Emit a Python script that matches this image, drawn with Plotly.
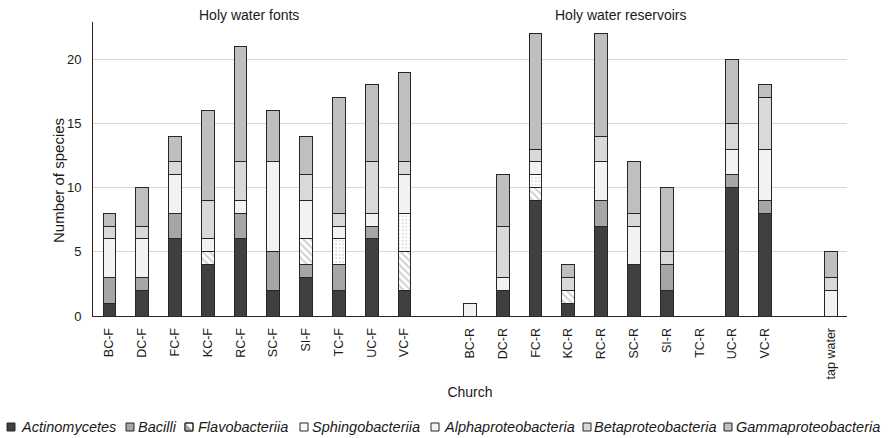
import plotly.graph_objects as go

# Sampling sites: holy water fonts, holy water reservoirs and tap water
categories = ["BC-F", "DC-F", "FC-F", "KC-F", "RC-F", "SC-F", "SI-F", "TC-F", "UC-F", "VC-F",
              "BC-R", "DC-R", "FC-R", "KC-R", "RC-R", "SC-R", "SI-R", "TC-R", "UC-R", "VC-R",
              "tap water"]
# Axis order, with blank slots separating the groups
axis_order = categories[:10] + [" "] + categories[10:20] + ["  "] + categories[20:]

# Number of species per bacterial class
actinomycetes = [1, 2, 6, 4, 6, 2, 3, 2, 6, 2, 0, 2, 9, 1, 7, 4, 2, 0, 10, 8, 0]
bacilli = [2, 1, 2, 0, 2, 3, 1, 2, 1, 0, 0, 0, 0, 0, 2, 0, 2, 0, 1, 1, 0]
flavobacteriia = [0, 0, 0, 1, 0, 0, 2, 0, 0, 3, 0, 0, 1, 1, 0, 0, 0, 0, 0, 0, 0]
sphingobacteriia = [0, 0, 0, 0, 0, 0, 0, 2, 0, 3, 0, 0, 1, 0, 0, 0, 0, 0, 0, 0, 0]
alphaproteobacteria = [3, 3, 3, 1, 1, 7, 3, 1, 1, 3, 1, 1, 1, 0, 3, 3, 0, 0, 2, 4, 2]
betaproteobacteria = [1, 1, 1, 3, 3, 0, 2, 1, 4, 1, 0, 4, 1, 1, 2, 1, 1, 0, 2, 4, 1]
gammaproteobacteria = [1, 3, 2, 7, 9, 4, 3, 9, 6, 7, 0, 4, 9, 1, 8, 4, 5, 0, 5, 1, 2]

group_titles = ["Holy water fonts", "Holy water reservoirs"]

FONT = "Liberation Sans, Arial, sans-serif"
TXT = "#1a1a1a"
EDGE = "#262626"

series = [
    ("Actinomycetes", actinomycetes, dict(color="#404040")),
    ("Bacilli", bacilli, dict(color="#a6a6a6")),
    ("Flavobacteriia", flavobacteriia,
     dict(color="white", pattern=dict(shape="\\", fgcolor="#a0a0a0", bgcolor="white",
                                      size=5, solidity=0.4))),
    ("Sphingobacteriia", sphingobacteriia,
     dict(color="white", pattern=dict(shape=".", fgcolor="#9a9a9a", bgcolor="white",
                                      size=3.5, solidity=0.2))),
    ("Alphaproteobacteria", alphaproteobacteria, dict(color="#f2f2f2")),
    ("Betaproteobacteria", betaproteobacteria, dict(color="#d9d9d9")),
    ("Gammaproteobacteria", gammaproteobacteria, dict(color="#bfbfbf")),
]

fig = go.Figure()
for name, vals, mk in series:
    fig.add_trace(go.Bar(
        name=name,
        x=categories,
        y=[v if v else None for v in vals],
        marker=dict(line=dict(color=EDGE, width=1), **mk),
        showlegend=False,
    ))

# Plot area geometry (px)
W, H = 892, 438
ML, MR, MT, MB = 93, 45, 22, 122
PW, PH = W - ML - MR, H - MT - MB


def px_x(px):
    return (px - ML) / PW


def px_y(py):
    return (H - MB - py) / PH


# Legend row along the bottom: swatch left edge and label left edge (px)
legend_pos = [(7, 20), (126, 137), (185, 197), (300, 311), (431, 443), (583, 593), (724, 735)]
swatch_fill = ["#404040", "#a6a6a6", "white", "white", "#f2f2f2", "#d9d9d9", "#bfbfbf"]
LEG_Y = 427
shapes = []
annotations = []
for (name, _, _), (sx, tx), fill in zip(series, legend_pos, swatch_fill):
    x0, x1 = sx - ML, sx + 8 - ML
    y0, y1 = (H - MB) - (LEG_Y + 4), (H - MB) - (LEG_Y - 4)
    shapes.append(dict(type="rect", xref="paper", yref="paper",
                       xsizemode="pixel", ysizemode="pixel", xanchor=0, yanchor=0,
                       x0=x0, x1=x1, y0=y0, y1=y1,
                       fillcolor=fill, line=dict(color=EDGE, width=1), layer="above"))
    if name == "Flavobacteriia":
        shapes.append(dict(type="path", xref="paper", yref="paper",
                           xsizemode="pixel", ysizemode="pixel", xanchor=0, yanchor=0,
                           path=f"M{x0},{y0} L{x0},{y1} L{x1},{y0} Z",
                           fillcolor="#a6a6a6", line=dict(width=0), layer="above"))
        shapes.append(dict(type="rect", xref="paper", yref="paper",
                           xsizemode="pixel", ysizemode="pixel", xanchor=0, yanchor=0,
                           x0=x0, x1=x1, y0=y0, y1=y1,
                           fillcolor="rgba(0,0,0,0)", line=dict(color=EDGE, width=1),
                           layer="above"))
    annotations.append(dict(text=f"<i>{name}</i>", xref="paper", yref="paper",
                            x=px_x(tx - 1), y=px_y(LEG_Y), xanchor="left", yanchor="middle",
                            showarrow=False, font=dict(size=14.5, color=TXT, family=FONT)))

# Group headings above the bars
for title, xc in zip(group_titles, [4.25, 15.6]):
    annotations.append(dict(text=title, xref="x", yref="paper", x=xc, y=px_y(15),
                            xanchor="center", yanchor="middle", showarrow=False,
                            font=dict(size=14, color=TXT, family=FONT)))

# Vertical axis title
annotations.append(dict(text="Number of species", xref="paper", yref="paper",
                        x=px_x(58), y=px_y(181), xanchor="center", yanchor="middle",
                        textangle=-90, showarrow=False,
                        font=dict(size=15, color=TXT, family=FONT)))

fig.update_layout(
    width=W, height=H,
    margin=dict(l=ML, r=MR, t=MT, b=MB, pad=0),
    barmode="stack",
    bargap=0.61,
    plot_bgcolor="white", paper_bgcolor="white",
    font=dict(family=FONT, color=TXT),
    shapes=shapes,
    annotations=annotations,
    xaxis=dict(
        type="category", categoryorder="array", categoryarray=axis_order,
        range=[-0.5, len(axis_order) - 0.5],
        showline=True, linecolor=EDGE, linewidth=1,
        ticks="", tickangle=-90, tickfont=dict(size=12.5, color=TXT),
        ticklabelstandoff=6,
        title=dict(text="Church", font=dict(size=14, color=TXT), standoff=8),
        automargin=False,
    ),
    yaxis=dict(
        range=[0, 22.9], tickvals=[0, 5, 10, 15, 20],
        showgrid=True, gridcolor="#d9d9d9", gridwidth=1,
        zeroline=False,
        showline=True, linecolor=EDGE, linewidth=1,
        ticks="", tickfont=dict(size=13, color=TXT),
        ticklabelstandoff=8,
        automargin=False,
    ),
)

fig.write_html("out.html")
